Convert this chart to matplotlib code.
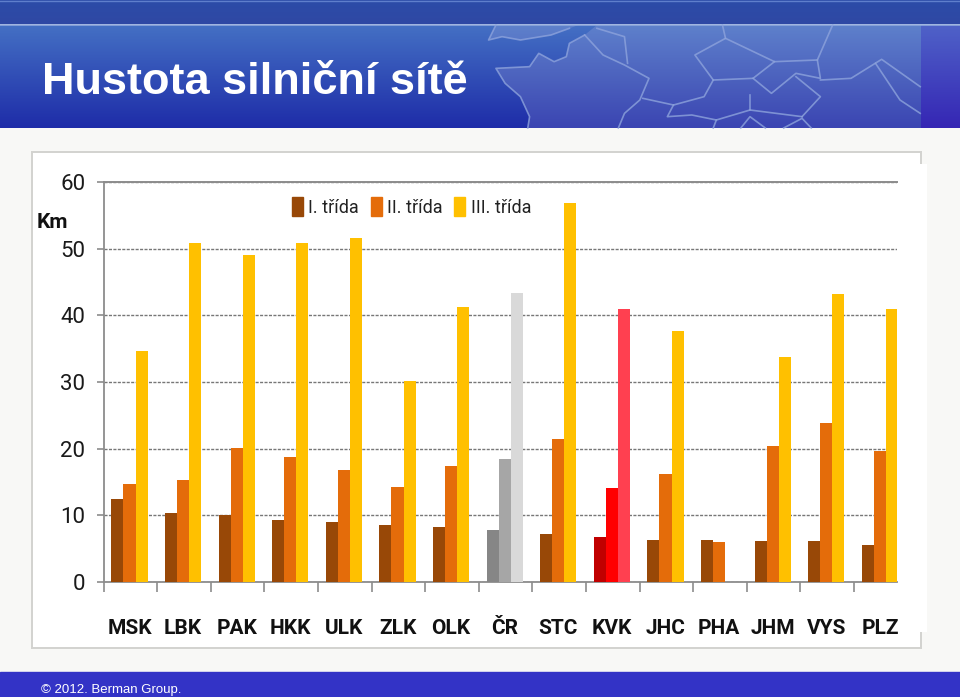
import numpy as np
import matplotlib
matplotlib.use("Agg")
import matplotlib.pyplot as plt
from matplotlib.patches import Patch, Rectangle, Polygon

categories = ["MSK","LBK","PAK","HKK","ULK","ZLK","OLK","ČR","STC","KVK","JHC","PHA","JHM","VYS","PLZ"]
trida1 = [12.4,10.3,10.1,9.3,9.0,8.5,8.2,7.8,7.2,6.8,6.3,6.3,6.2,6.2,5.5]
trida2 = [14.7,15.3,20.1,18.7,16.8,14.3,17.4,18.5,21.4,14.1,16.2,6.0,20.4,23.9,19.7]
trida3 = [34.6,50.8,49.0,50.8,51.6,30.2,41.3,43.4,56.9,40.9,37.7,0,33.7,43.2,40.9]
series_names = ["I. třída","II. třída","III. třída"]
series_colors = ["#984807","#E46C0A","#FFC000"]
cr_colors = ["#868686","#A6A6A6","#D9D9D9"]
kvk_colors = ["#C00000","#FF0000","#FF4050"]

W, H = 960, 697
fig = plt.figure(figsize=(9.6, 6.97), dpi=100, facecolor="#F8F8F6")
bg = fig.add_axes([0, 0, 1, 1], zorder=0)
bg.axis("off")

def vgrad(x0, x1, y0, y1, c0, c1, alpha=1, clip=None):
    a = np.array(matplotlib.colors.to_rgb(c0)); b = np.array(matplotlib.colors.to_rgb(c1))
    t = np.linspace(0, 1, 128)[:, None, None]
    im = bg.imshow(a + (b - a) * t, extent=[x0, x1, y1, y0], aspect="auto", alpha=alpha, zorder=1)
    if clip is not None:
        im.set_clip_path(clip)
    return im

bg.set_xlim(0, W); bg.set_ylim(H, 0)

def traced(points):
    # header outlines were traced on a 1568x720 enlargement of the top band
    return np.array(points, float) * [960 / 1568, 240 / 720]

land = [(955,105),(930,130),(925,170),(905,185),(880,160),(865,200),(810,205),(825,250),(850,290),
        (865,350),(862,384),(1505,384),(1505,75),(975,75)]
uk = [(810,75),(798,120),(820,110),(850,120),(900,105),(930,85),(945,75)]
borders = [
 uk[:-1],
 land[:11],
 [(955,105),(985,165),(1020,195),(1060,235),(1045,300),(1020,340),(1010,384)],
 [(975,85),(1020,110),(1025,190)],
 [(1180,75),(1185,115),(1135,165),(1165,240),(1150,290),(1100,315),(1050,295)],
 [(1185,115),(1225,150),(1265,185),(1335,180),(1360,75)],
 [(1165,240),(1230,235),(1265,185)],
 [(1335,180),(1340,235),(1300,220),(1260,280),(1230,235)],
 [(1340,240),(1390,235),(1440,178),(1503,260)],
 [(1503,340),(1470,300),(1430,190)],
 [(1100,315),(1090,350),(1130,345),(1170,360),(1225,330),(1225,285)],
 [(1310,350),(1340,290),(1300,230)],
 [(1225,330),(1310,350)],
 [(1165,384),(1170,360)],
 [(1210,384),(1225,350),(1250,384)],
 [(1280,384),(1310,355),(1325,384)],
]

vgrad(0, W, 0, 24, "#2C4CA8", "#2F48A4")
vgrad(0, W, 25, 128, "#4470C4", "#1E2CA8")
for poly in (land, uk):
    clip = Polygon(traced(poly), transform=bg.transData)
    vgrad(480, 921, 25, 128, "#6283CC", "#3F48B4", alpha=0.9, clip=clip)
vgrad(921, W, 25, 128, "#4F62C8", "#3526B4")
bg.plot([0, W], [24.5, 24.5], color="#8FA8DC", lw=1.2, zorder=3)
bg.plot([0, W], [0.5, 0.5], color="#5F7FCC", lw=1, zorder=3)
for b in borders:
    pts = traced(b)
    bg.plot(pts[:, 0], pts[:, 1], color="#8DA3DC", lw=1.2, alpha=.8, zorder=3, solid_joinstyle="round")

bg.text(42, 93.5, "Hustota silniční sítě", color="white", fontsize=32.5, family="Liberation Sans",
        fontweight="bold", va="baseline", ha="left", zorder=5)

# footer and chart panel
bg.add_patch(Rectangle((0, 672), W, 25, color="#3333C6", zorder=2))
bg.text(41, 693, "© 2012. Berman Group.", color="white", fontsize=9.5, family="Liberation Sans",
        va="baseline", ha="left", zorder=5)
bg.add_patch(Rectangle((32, 152), 889, 496, fc="white", ec="#D2D2CF", lw=1.4, zorder=2))
bg.add_patch(Rectangle((919, 164), 8, 468, fc="white", ec="none", zorder=3))
bg.set_xlim(0, W); bg.set_ylim(H, 0)

# chart axes
L, R, T, B = 103.5, 897, 182, 582
ax = fig.add_axes([L/W, 1-B/H, (R-L)/W, (B-T)/H], zorder=2)
ax.patch.set_alpha(0)
x = np.arange(len(categories))
bw = 0.2239
ax.set_xlim((L - 129.5) / 53.6, (R - 129.5) / 53.6)
ax.set_ylim(0, 60)

for i, (vals, col, name) in enumerate(zip([trida1, trida2, trida3], series_colors, series_names)):
    colors = [col] * len(categories)
    colors[categories.index("ČR")] = cr_colors[i]
    colors[categories.index("KVK")] = kvk_colors[i]
    ax.bar(x + (i-1)*bw, vals, bw, color=colors, zorder=3, label=name)

for s in ("top", "right"):
    ax.spines[s].set_visible(False)
for s in ("left", "bottom"):
    ax.spines[s].set_color("#8C8C8C"); ax.spines[s].set_linewidth(1.3)
ax.set_yticks(range(0, 61, 10))
ax.yaxis.grid(True, color="#777777", lw=1, ls=(0, (2.2, 1)), zorder=1)
ax.set_axisbelow(True)
ax.axhline(60, color="#8C8C8C", lw=1.4, zorder=2, clip_on=False)
ax.tick_params(axis="y", length=4.7, color="#8C8C8C", width=1.2, pad=8.5,
               labelsize=16, labelcolor="#1A1A1A")
for t in ax.get_yticklabels():
    t.set_family("Roboto")

# boundary ticks plus centred category labels
ax.set_xticks(x - 0.485)
ax.set_xticklabels([])
ax.tick_params(axis="x", length=7, color="#8C8C8C", width=1.2)
for xi, c in zip(x, categories):
    ax.annotate(c, (xi, 0), xytext=(0, -46.5), xycoords=("data", "axes fraction"),
                textcoords="offset pixels", ha="center", va="center",
                fontsize=15, family="Roboto", fontweight="bold", color="#111111")

bg.text(52.5, 223, "Km", fontsize=15, family="Roboto", fontweight="bold", color="#111111",
        ha="center", va="center", zorder=5)

handles = [Patch(color=c) for c in series_colors]
ax.legend(handles, series_names, ncol=3, frameon=False, loc="center",
          bbox_to_anchor=((411.5-L)/(R-L), (B-207)/(B-T)),
          prop={"family": "Roboto", "size": 13}, handlelength=0.6, handleheight=1.2,
          handletextpad=0.3, columnspacing=0.65, labelcolor="#222222")

fig.savefig("out.png", dpi=100, facecolor=fig.get_facecolor())
